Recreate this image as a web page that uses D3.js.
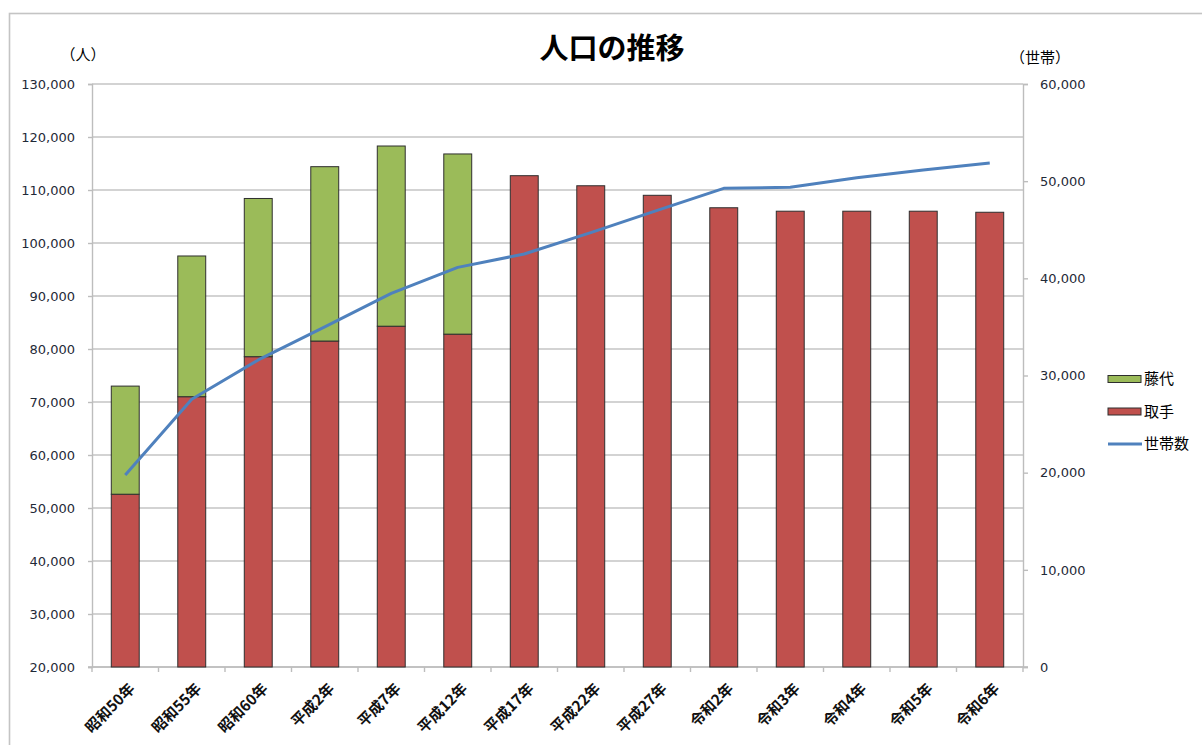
<!DOCTYPE html>
<html>
<head>
<meta charset="utf-8">
<script src="https://cdn.jsdelivr.net/npm/d3@7"></script>
<style>
  body { margin: 0; background: #fff; }
  svg text { font-family: "DejaVu Sans", "Noto Sans CJK JP", sans-serif; }
</style>
</head>
<body>
<div id="myChart"></div>
<script>
var years = ['昭和50年', '昭和55年', '昭和60年', '平成2年', '平成7年', '平成12年', '平成17年',
  '平成22年', '平成27年', '令和2年', '令和3年', '令和4年', '令和5年', '令和6年']; // categories
var toride = [52600, 71000, 78550, 81500, 84300, 82800, 112700, 110800, 109000, 106650, 106000, 106000, 106000, 105800];
var fujishiro = [20400, 26550, 29850, 32900, 34000, 34000, 0, 0, 0, 0, 0, 0, 0, 0];
var households = [19760, 27550, 31600, 35000, 38450, 41130, 42500, 44700, 47000, 49260, 49370, 50360, 51150, 51860];
var leftTicks = [20000, 30000, 40000, 50000, 60000, 70000, 80000, 90000, 100000, 110000, 120000, 130000];
var rightTicks = [0, 10000, 20000, 30000, 40000, 50000, 60000];

var W = 1202, H = 745;
var margin = {top: 84, right: 179, bottom: 78, left: 92},
  width = W - margin.left - margin.right,
  height = H - margin.top - margin.bottom;

var svg = d3.select("#myChart")
  .append("svg")
  .attr("width", W)
  .attr("height", H);

// outer frame
svg.append("rect")
  .attr("x", 9.5).attr("y", 13.5)
  .attr("width", 1200).attr("height", 740)
  .attr("fill", "none")
  .attr("stroke", "#c4c4c4")
  .attr("stroke-width", 1.6);

var g = svg.append("g")
  .attr("transform", "translate(" + margin.left + "," + margin.top + ")");

// scales
var x = d3.scaleBand()
  .domain(years)
  .range([0, width])
  .paddingInner(0.58)
  .paddingOuter(0.29);

var y = d3.scaleLinear()
  .domain([20000, 130000])
  .range([height, 0]);

var y2 = d3.scaleLinear()
  .domain([0, 60000])
  .range([height, 0]);

// gridlines
g.selectAll("line.grid")
  .data(leftTicks)
  .enter()
  .append("line")
  .attr("class", "grid")
  .attr("x1", 0).attr("x2", width)
  .attr("y1", function(d) { return y(d); })
  .attr("y2", function(d) { return y(d); })
  .attr("stroke", "#c4c4c4")
  .attr("stroke-width", 1.4);

// left axis
var yAxis = g.append("g")
  .call(d3.axisLeft(y).tickValues(leftTicks).tickSize(4).tickPadding(13).tickFormat(d3.format(",")));

// right axis
var y2Axis = g.append("g")
  .attr("transform", "translate(" + width + ",0)")
  .call(d3.axisRight(y2).tickValues(rightTicks).tickSize(5).tickPadding(12).tickFormat(d3.format(",")));

// bottom axis: ticks between the categories
var xAxis = g.append("g")
  .attr("transform", "translate(0," + height + ")");
xAxis.append("line")
  .attr("x1", -4).attr("x2", width + 5)
  .attr("stroke", "#bdbdbd").attr("stroke-width", 1.4);
xAxis.selectAll("line.tk")
  .data(d3.range(years.length + 1))
  .enter()
  .append("line")
  .attr("class", "tk")
  .attr("x1", function(i) { return x.step() * i; })
  .attr("x2", function(i) { return x.step() * i; })
  .attr("y1", 0).attr("y2", 5)
  .attr("stroke", "#bdbdbd").attr("stroke-width", 1.4);
xAxis.selectAll("text")
  .data(years)
  .enter()
  .append("text")
  .attr("text-anchor", "end")
  .attr("transform", function(d) {
    return "translate(" + (x(d) + x.bandwidth() / 2 + 7) + ",19) rotate(-45)";
  })
  .attr("dy", "0.35em")
  .style("font-size", "15px")
  .style("font-family", "'Noto Sans CJK JP', sans-serif")
  .style("font-weight", "bold")
  .style("fill", "#111")
  .text(function(d) { return d; });

[yAxis, y2Axis].forEach(function(a) {
  a.select(".domain").attr("stroke", "#bdbdbd").attr("stroke-width", 1.4);
  a.selectAll(".tick line").attr("stroke", "#bdbdbd").attr("stroke-width", 1.4);
  a.selectAll(".tick text").style("font-size", "13px").style("fill", "#1f2a38")
    .style("font-family", "'DejaVu Sans', sans-serif");
});

// stacked bars
var stackData = years.map(function(d, i) {
  return {year: d, toride: toride[i], fujishiro: fujishiro[i]};
});

g.selectAll("rect.toride")
  .data(stackData)
  .enter()
  .append("rect")
  .attr("class", "toride")
  .attr("x", function(d) { return x(d.year); })
  .attr("y", function(d) { return y(d.toride); })
  .attr("width", x.bandwidth())
  .attr("height", function(d) { return y(20000) - y(d.toride); })
  .attr("fill", "#c0504d")
  .attr("stroke", "#2e2e2e")
  .attr("stroke-width", 1);

g.selectAll("rect.fujishiro")
  .data(stackData.filter(function(d) { return d.fujishiro > 0; }))
  .enter()
  .append("rect")
  .attr("class", "fujishiro")
  .attr("x", function(d) { return x(d.year); })
  .attr("y", function(d) { return y(d.toride + d.fujishiro); })
  .attr("width", x.bandwidth())
  .attr("height", function(d) { return y(d.toride) - y(d.toride + d.fujishiro); })
  .attr("fill", "#9bbb59")
  .attr("stroke", "#2e2e2e")
  .attr("stroke-width", 1);

// households line
var line = d3.line()
  .x(function(d, i) { return x(years[i]) + x.bandwidth() / 2; })
  .y(function(d) { return y2(d); });

g.append("path")
  .datum(households)
  .attr("d", line)
  .attr("fill", "none")
  .attr("stroke", "#4f81bd")
  .attr("stroke-width", 3)
  .attr("stroke-linejoin", "round");

// title and axis unit labels
svg.append("text")
  .attr("x", 612).attr("y", 59)
  .attr("text-anchor", "middle")
  .style("font-family", "'Noto Sans CJK JP', sans-serif")
  .style("font-size", "29px")
  .style("font-weight", "bold")
  .text("人口の推移");

svg.append("text")
  .attr("x", 83).attr("y", 60)
  .attr("text-anchor", "middle")
  .style("font-family", "'Noto Sans CJK JP', sans-serif")
  .style("font-size", "15px")
  .text("（人）");

svg.append("text")
  .attr("x", 1040).attr("y", 63)
  .attr("text-anchor", "middle")
  .style("font-family", "'Noto Sans CJK JP', sans-serif")
  .style("font-size", "15px")
  .text("（世帯）");

// legend
var legendItems = [
  {name: '藤代', type: 'bar', color: '#9bbb59'},
  {name: '取手', type: 'bar', color: '#c0504d'},
  {name: '世帯数', type: 'line', color: '#4f81bd'}
];
var legend = svg.selectAll("g.legend")
  .data(legendItems)
  .enter()
  .append("g")
  .attr("class", "legend")
  .attr("transform", function(d, i) { return "translate(1108," + (379 + i * 32.5) + ")"; });

legend.filter(function(d) { return d.type == 'bar'; })
  .append("rect")
  .attr("x", 0).attr("y", -3.5)
  .attr("width", 33).attr("height", 7)
  .attr("fill", function(d) { return d.color; })
  .attr("stroke", "#2e2e2e")
  .attr("stroke-width", 1);

legend.filter(function(d) { return d.type == 'line'; })
  .append("line")
  .attr("x1", 0).attr("x2", 34)
  .attr("stroke", function(d) { return d.color; })
  .attr("stroke-width", 3);

legend.append("text")
  .attr("x", 36)
  .attr("dy", "0.35em")
  .style("font-family", "'Noto Sans CJK JP', sans-serif")
  .style("font-size", "15px")
  .text(function(d) { return d.name; });
</script>
</body>
</html>
